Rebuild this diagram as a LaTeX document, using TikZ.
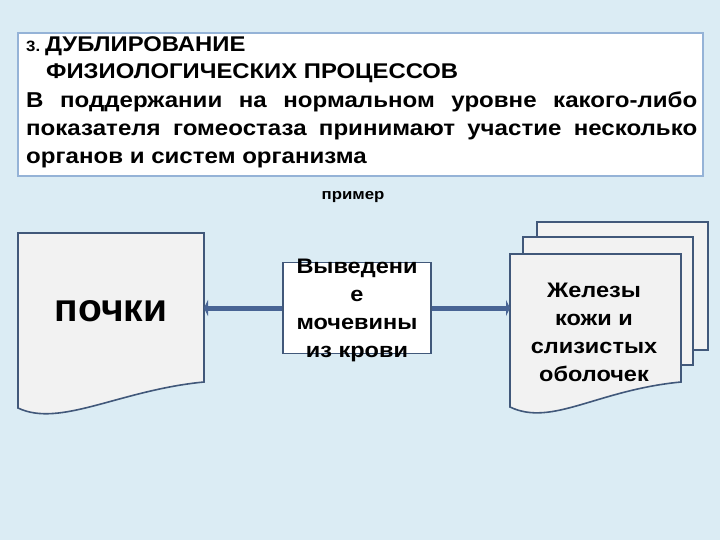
\documentclass[tikz,border=0pt]{standalone}
\usepackage{fontspec}
\setmainfont{Liberation Sans}
\newfontfamily\widefont[FakeStretch=1.12]{Liberation Sans}
\usetikzlibrary{arrows.meta}
\definecolor{bgblue}{RGB}{219,236,244}
\definecolor{framegray}{RGB}{65,88,122}
\definecolor{arrowblue}{RGB}{72,100,148}
\definecolor{topframe}{RGB}{149,179,215}
\definecolor{pagegray}{RGB}{242,242,242}

\begin{document}
\begin{tikzpicture}[x=1pt,y=-1pt,
		doc_style/.style={draw=framegray,line width=1.6pt,fill=pagegray},
		box_style/.style={draw=framegray,line width=1.6pt,fill=white,minimum width=148pt,minimum height=91pt,inner sep=0pt},
		text_style/.style={font=\widefont\bfseries\fontsize{21}{28}\selectfont,align=center,inner sep=0pt},
		edge_style/.style={draw=arrowblue,line width=5pt,-{Triangle[width=16pt,length=4pt]}}]

		\useasboundingbox[fill=bgblue] (0,0) rectangle (720,540);

		% top box
		\draw[draw=topframe,line width=1.2pt,fill=white] (18,33) rectangle (703,176);
		\node[anchor=base west,inner sep=0pt,font=\widefont\bfseries\fontsize{21.3}{27}\selectfont] (t1) at (26,52)
			{{\fontsize{15}{18}\selectfont 3.}\kern5pt ДУБЛИРОВАНИЕ};
		\node[anchor=base west,inner sep=0pt,font=\widefont\bfseries\fontsize{21.3}{27}\selectfont] (t2) at (46,79)
			{ФИЗИОЛОГИЧЕСКИХ ПРОЦЕССОВ};
		\node[anchor=north west,inner sep=0pt,align=left,
			font=\widefont\bfseries\fontsize{21.5}{28}\selectfont] (t3) at (26,92)
			{\makebox[671pt][s]{В поддержании на нормальном уровне какого-либо}\\
			 \makebox[671pt][s]{показателя гомеостаза принимают участие несколько}\\
			 органов и систем организма};
		\node[font=\widefont\bfseries\fontsize{15}{18}\selectfont] (t4) at (353,197) {пример};

		% kidneys
		\draw[doc_style] (18,408) -- (18,233) -- (204,233) -- (204,382)
			.. controls (120,390) and (60,428) .. cycle;
		\node[font=\bfseries\fontsize{39}{40}\selectfont] (n0) at (111,311) {почки};
		\coordinate (n1) at (204,308);

		% middle box
		\node[box_style] (n2) at (357,308) {};
		\node[text_style] (n3) at (357,310) {Выведени\\е\\мочевины\\из крови};

		% glands
		\draw[doc_style] (537,222) rectangle (708,350);
		\draw[doc_style] (523,237) rectangle (693,365);
		\draw[doc_style] (510,407) -- (510,254) -- (681,254) -- (681,382)
			.. controls (597,390) and (552,427) .. cycle;
		\node[text_style] (n4) at (594,332) {Железы\\кожи и\\слизистых\\оболочек};
		\coordinate (n5) at (510,308);

		\draw[edge_style] (n2.west) -- (n1);
		\draw[edge_style] (n2.east) -- (n5);

		\end{tikzpicture}
\end{document}
